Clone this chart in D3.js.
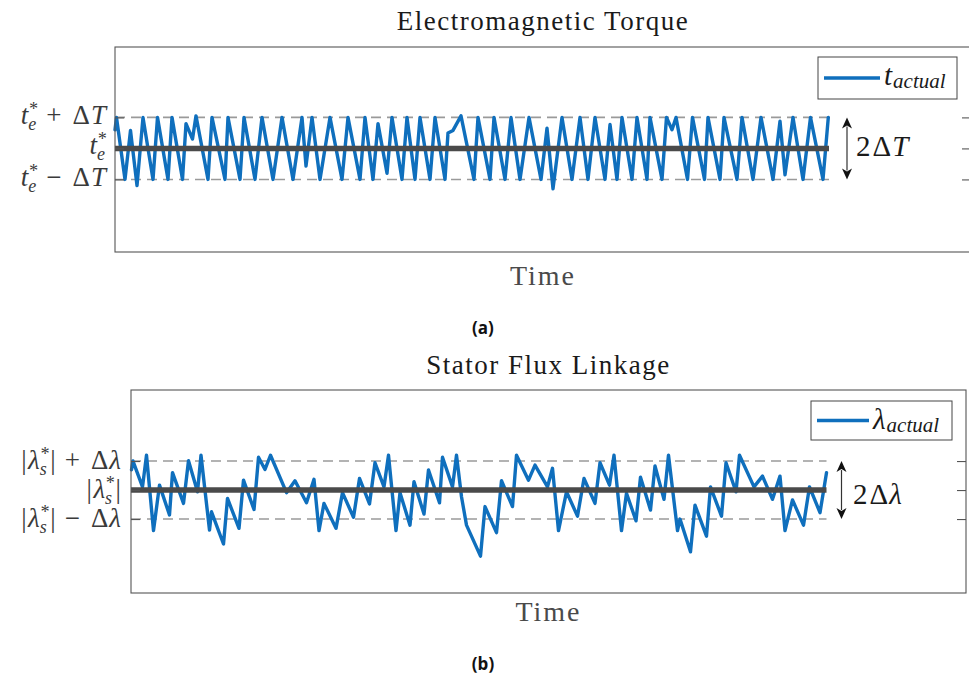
<!DOCTYPE html>
<html>
<head>
<meta charset="utf-8">
<script src="https://cdn.jsdelivr.net/npm/d3@7/dist/d3.min.js"></script>
<style>
  html, body { margin: 0; padding: 0; background: #fff; }
  svg { display: block; }
</style>
</head>
<body>
<svg id="fig" width="969" height="682"></svg>
<script>
// ---------------------------------------------------------------
// Hysteresis-band behaviour of a direct-torque-controlled drive.
// Deviations are expressed in units of the band half-width
// (ΔT for torque, Δλ for flux), time in samples.
// ---------------------------------------------------------------

// (a) electromagnetic torque
const torqueTime = [0, 1.5, 10, 15.5, 22, 28, 38, 42.5, 53, 57, 67.5, 71, 77.5, 81, 93, 97, 110, 113, 125, 129,
  140, 147, 158, 167, 178, 187, 191, 197, 205, 215, 227, 233, 245, 250, 258, 263, 272, 277, 287, 292,
  300, 305, 315, 320, 330, 333, 338, 346, 359, 363, 375, 379, 390, 396, 405, 414, 426, 432, 438, 447,
  457, 465, 473, 480, 490, 495, 502, 507, 517, 522, 532, 535, 547, 551.5, 557, 561, 572.5, 577.5, 589.5, 593,
  605, 609, 622, 627, 638, 646, 658, 665, 670, 678, 688, 695.5, 708, 713.3];
const torqueDev = [0.6, 1.0, -1.0, 0.58, -1.2, 1.0, -1.0, 1.0, -1.0, 1.0, -1.0, 0.8, 0.3, 1.05, -1.0, 1.0, -1.0, 1.0, -1.0, 1.0,
  -1.0, 1.0, -1.0, 1.0, -1.0, 1.0, -0.57, 1.0, -1.0, 1.0, -1.0, 1.0, -1.0, 1.0, -1.0, 0.8, -0.8, 1.0, -1.0, 1.0,
  -1.0, 1.0, -1.0, 1.0, -1.0, 0.5, 0.58, 1.05, -1.0, 1.0, -1.0, 1.0, -1.0, 1.0, -1.0, 1.0, -1.0, 0.65, -1.3, 1.0,
  -1.0, 1.0, -1.0, 1.0, -1.0, 0.77, -1.0, 1.0, -1.0, 1.0, -1.0, 1.0, -1.0, 1.0, 0.6, 1.0, -1.0, 1.0, -1.0, 1.0,
  -1.0, 1.0, -1.0, 1.0, -1.0, 1.0, -1.0, 0.88, -0.85, 1.0, -1.0, 1.0, -1.0, 1.0];
const torqueTimeLimits = [0, 856];
const torqueDevLimits = [-3.34, 3.27];
const torqueRefEnd = 714;

// (b) stator flux linkage magnitude
const fluxTime = [0.5, 2, 11.5, 15.5, 22.5, 28.5, 38.5, 41.5, 52.5, 57.5, 66.5, 70, 78.5, 80.5, 92.5, 96.5, 108, 112.5, 123, 127.5,
  134, 139.5, 155.5, 164, 175.5, 183, 188, 193, 205, 211.5, 222.5, 228.5, 238.5, 244, 253, 257.5, 265, 269, 279, 283,
  293, 297.5, 308.5, 311.5, 321.5, 325.5, 330.5, 335.5, 349.5, 354, 365.5, 370.5, 381.5, 385.5, 397.5, 404, 416.5, 421.5, 427.5, 435.5,
  446.5, 453, 464, 469, 478.5, 483, 490.5, 495.5, 505, 509.5, 519.5, 524, 533, 537.5, 546.5, 549, 559.5, 564, 575.5, 579.5,
  590.5, 595, 605, 608.5, 623, 631.5, 641.5, 649, 654, 661.5, 672.5, 678.5, 689, 695.5];
const fluxDev = [0.7, 1.0, 0.11, 1.2, -1.4, 0.17, -0.86, 0.6, -0.46, 1.01, -0.06, 1.2, -1.38, -0.75, -1.86, -0.29, -1.32, 0.34, -0.67, 1.13,
  0.71, 1.2, -0.09, 0.32, -0.44, 0.37, -1.4, -0.46, -1.32, -0.09, -0.94, 0.4, -0.48, 0.94, 0.11, 1.2, -1.4, -0.09, -1.21, 0.29,
  -0.83, 0.69, -0.44, 1.13, 0.11, 1.2, -0.23, -1.21, -2.28, -0.57, -1.47, 0.32, -0.57, 1.2, 0.34, 0.86, 0.11, 0.75, -1.4, -0.06,
  -0.9, 0.4, -0.46, 0.94, 0.17, 1.2, -1.4, -0.11, -1.06, 0.44, -0.69, 0.83, -0.32, 1.2, -1.4, -1.0, -2.13, -0.52, -1.59, 0.11,
  -0.9, 0.94, -0.06, 1.2, 0.11, 0.48, -0.32, 0.48, -1.4, -0.34, -1.21, 0.11, -0.78, 0.6];
const fluxTimeLimits = [0, 835];
const fluxDevLimits = [-3.55, 3.45];
const fluxRefEnd = 695.5;

// band levels: lower limit, reference, upper limit
const bandLevels = [-1, 0, 1];

// ---------------------------------------------------------------
const SERIF = "'Liberation Serif', 'DejaVu Serif', serif";
const BLUE = "#0f6fbd";
const svg = d3.select("#fig");

// Lays out a small formula as one text element. Each piece is a tspan,
// optionally italic or shifted; a piece with `sub`/`sup` sets both
// scripts in one run, the two characters placed at the same x.
function formula(parent, pieces, x, y, anchor, color) {
  const g = parent.append("g");
  const text = g.append("text").attr("fill", color).attr("font-family", SERIF);
  let cx = 0;
  pieces.forEach(p => {
    const start = cx + (p.pre || 0);
    const ts = text.append("tspan")
      .attr("font-size", p.size)
      .attr("font-style", p.it ? "italic" : "normal");
    if (p.sub !== undefined) {
      ts.attr("x", `${start} ${start}`)
        .attr("y", `${p.subDy} ${p.supDy}`)
        .text(p.sub + p.sup);
      const n = ts.node();
      cx = start + Math.max(n.getSubStringLength(0, 1), n.getSubStringLength(1, 1));
    } else {
      ts.attr("x", start).attr("y", p.dy || 0).text(p.t);
      cx = start + ts.node().getComputedTextLength();
    }
  });
  const ox = anchor === "end" ? x - cx : anchor === "middle" ? x - cx / 2 : x;
  g.attr("transform", `translate(${ox},${y})`);
  return g;
}

function panel(cfg) {
  const x = d3.scaleLinear().domain(cfg.timeLimits).range([cfg.left, cfg.right]);
  const y = d3.scaleLinear().domain(cfg.devLimits).range([cfg.bottom, cfg.top]);
  const g = svg.append("g");

  // hysteresis limits
  g.selectAll("line.band").data(bandLevels.filter(v => v !== 0)).join("line")
    .attr("class", "band")
    .attr("x1", x(0)).attr("x2", x(cfg.refEnd))
    .attr("y1", d => y(d)).attr("y2", d => y(d))
    .attr("stroke", "#9a9a9a").attr("stroke-width", 1.6)
    .attr("stroke-dasharray", "10,6");

  // actual quantity
  const pts = cfg.time.map((t, i) => [t, cfg.dev[i]]);
  g.append("path").datum(pts)
    .attr("fill", "none").attr("stroke", BLUE).attr("stroke-width", 3.4)
    .attr("stroke-linejoin", "round").attr("stroke-linecap", "round")
    .attr("d", d3.line().x(d => x(d[0])).y(d => y(d[1])));

  // reference
  g.append("line")
    .attr("x1", x(0)).attr("x2", x(cfg.refEnd))
    .attr("y1", y(0)).attr("y2", y(0))
    .attr("stroke", "#4a4a4a").attr("stroke-width", 5.5);

  // frame and ticks
  g.append("rect")
    .attr("x", cfg.left).attr("y", cfg.top)
    .attr("width", cfg.right - cfg.left).attr("height", cfg.bottom - cfg.top)
    .attr("fill", "none").attr("stroke", "#555").attr("stroke-width", 1.1);
  const axL = g.append("g").attr("transform", `translate(${cfg.left},0)`)
    .call(d3.axisLeft(y).tickValues(bandLevels).tickSize(-9).tickFormat(""));
  const axR = g.append("g").attr("transform", `translate(${cfg.right},0)`)
    .call(d3.axisRight(y).tickValues(bandLevels).tickSize(-9).tickFormat(""));
  [axL, axR].forEach(a => {
    a.select(".domain").remove();
    a.selectAll(".tick line").attr("stroke", "#555").attr("stroke-width", 1.1);
  });

  // tick labels
  bandLevels.forEach(v => {
    formula(g, cfg.tickPieces(v), cfg.left - cfg.labelGap, y(v) + cfg.labelShift(v), "end", "#3a3a3a");
  });

  // band-width arrow
  const ax = cfg.arrowX, yTop = y(1), yBot = y(-1), head = 11, hw = 5;
  g.append("line").attr("x1", ax).attr("x2", ax)
    .attr("y1", yTop + head - 2).attr("y2", yBot - head + 2)
    .attr("stroke", "#333").attr("stroke-width", 1.2);
  g.append("path").attr("fill", "#111")
    .attr("d", `M${ax},${yTop} L${ax - hw},${yTop + head} L${ax},${yTop + head - 3} L${ax + hw},${yTop + head} Z`);
  g.append("path").attr("fill", "#111")
    .attr("d", `M${ax},${yBot} L${ax - hw},${yBot - head} L${ax},${yBot - head + 3} L${ax + hw},${yBot - head} Z`);
  formula(g, cfg.bandPieces, cfg.bandLabelX, y(0) + cfg.bandLabelDy, "start", "#1a1a1a");

  // legend
  const L = cfg.legend;
  g.append("rect").attr("x", L.x).attr("y", L.y).attr("width", L.w).attr("height", L.h)
    .attr("fill", "#fff").attr("stroke", "#444").attr("stroke-width", 1);
  g.append("line").attr("x1", L.x + 6).attr("x2", L.x + L.lineLen + 6)
    .attr("y1", L.y + L.h / 2).attr("y2", L.y + L.h / 2)
    .attr("stroke", BLUE).attr("stroke-width", 3.4);
  formula(g, L.pieces, L.x + L.lineLen + 10, L.y + L.h / 2 + L.textDy, "start", "#1a1a1a");

  // titles
  const mid = (cfg.left + cfg.right) / 2;
  g.append("text").attr("x", mid).attr("y", cfg.titleY)
    .attr("text-anchor", "middle").attr("font-family", SERIF).attr("font-size", 27)
    .attr("letter-spacing", 1.5).attr("fill", "#1a1a1a").text(cfg.title);
  g.append("text").attr("x", mid).attr("y", cfg.xLabelY)
    .attr("text-anchor", "middle").attr("font-family", SERIF).attr("font-size", 28)
    .attr("letter-spacing", 2).attr("fill", "#4a4a4a").text("Time");
  g.append("text").attr("x", cfg.captionX).attr("y", cfg.captionY)
    .attr("text-anchor", "middle").attr("font-family", "'Open Sans', 'Noto Sans', sans-serif")
    .attr("font-size", 17).attr("font-weight", "bold").attr("fill", "#111")
    .text(`(${cfg.caption})`);
}

const S = 27, s = 18;
function torqueTick(v) {
  const base = [
    { t: "t", it: true, size: S },
    { sub: "e", sup: "*", it: true, size: s, subDy: 6, supDy: -9 }
  ];
  if (v === 0) return base;
  return base.concat([
    { t: v > 0 ? "+" : "\u2212", size: S, pre: 9 },
    { t: "\u0394", size: S, pre: 11 },
    { t: "T", it: true, size: S, pre: 1 }
  ]);
}
function fluxTick(v) {
  const base = [
    { t: "|", size: S },
    { t: "\u03bb", it: true, size: S, pre: 1.5 },
    { sub: "s", sup: "*", it: true, size: s, subDy: 6, supDy: -9 },
    { t: "|", size: S, pre: 1.5 }
  ];
  if (v === 0) return base;
  return base.concat([
    { t: v > 0 ? "+" : "\u2212", size: S, pre: 9 },
    { t: "\u0394", size: S, pre: 11 },
    { t: "\u03bb", it: true, size: S, pre: 1 }
  ]);
}

panel({
  left: 115, right: 971, top: 47, bottom: 252,
  time: torqueTime, dev: torqueDev,
  timeLimits: torqueTimeLimits, devLimits: torqueDevLimits, refEnd: torqueRefEnd,
  tickPieces: torqueTick, labelGap: 9,
  labelShift: v => v === 0 ? 6 : 7,
  arrowX: 847,
  bandPieces: [{ t: "2", size: 29 }, { t: "\u0394", size: 29, pre: 2 }, { t: "T", it: true, size: 29, pre: 1 }],
  bandLabelX: 856, bandLabelDy: 8,
  legend: { x: 818, y: 57, w: 139, h: 42, lineLen: 56, textDy: 7,
    pieces: [{ t: "t", it: true, size: 29 }, { t: "actual", it: true, size: 21, dy: 3, pre: 1 }] },
  title: "Electromagnetic Torque", titleY: 30, xLabelY: 285,
  caption: "a", captionX: 483, captionY: 334
});

panel({
  left: 131, right: 966, top: 390, bottom: 593,
  time: fluxTime, dev: fluxDev,
  timeLimits: fluxTimeLimits, devLimits: fluxDevLimits, refEnd: fluxRefEnd,
  tickPieces: fluxTick, labelGap: 10,
  labelShift: v => 8,
  arrowX: 841.5,
  bandPieces: [{ t: "2", size: 29 }, { t: "\u0394", size: 29, pre: 2 }, { t: "\u03bb", it: true, size: 29, pre: 1 }],
  bandLabelX: 853, bandLabelDy: 14,
  legend: { x: 811, y: 401, w: 141, h: 39, lineLen: 52, textDy: 8,
    pieces: [{ t: "\u03bb", it: true, size: 29 }, { t: "actual", it: true, size: 21, dy: 3, pre: 1 }] },
  title: "Stator Flux Linkage", titleY: 374, xLabelY: 621,
  caption: "b", captionX: 483, captionY: 670
});
</script>
</body>
</html>
